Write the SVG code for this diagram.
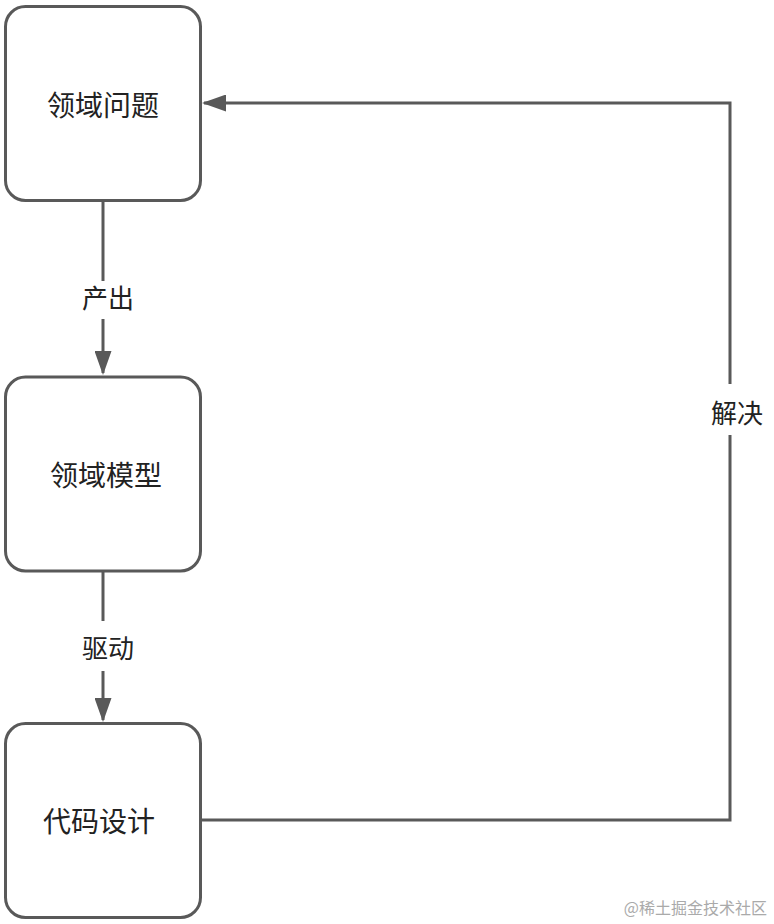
<svg xmlns="http://www.w3.org/2000/svg" width="774" height="924" viewBox="0 0 774 924">
  <style>
    .box { fill: #ffffff; stroke: #595959; stroke-width: 3; }
    .edge { fill: none; stroke: #595959; stroke-width: 3; }
    .t { font-family: "Noto Sans CJK SC", "Noto Sans", sans-serif; fill: #222222; text-anchor: middle; dominant-baseline: central; }
    .node { font-size: 28px; }
    .lbl { font-size: 26px; }
    .wm { font-family: "Noto Sans CJK SC", sans-serif; font-size: 16px; fill: #aaaaaa; text-anchor: end; dominant-baseline: central; }
  </style>
  <defs>
    <marker id="arrow" viewBox="0 0 24 17" refX="22" refY="8.5" markerWidth="24" markerHeight="17" markerUnits="userSpaceOnUse" orient="auto">
      <path d="M0,0 L24,8.5 L0,17 z" fill="#595959"/>
    </marker>
  </defs>
  <rect width="774" height="924" fill="#ffffff"/>
  <g id="connectors">
    <g id="edge-produce">
      <line class="edge" x1="103" y1="201" x2="103" y2="281"/>
      <line class="edge" x1="103" y1="319" x2="103" y2="373" marker-end="url(#arrow)"/>
      <text class="t lbl" x="108" y="296">产出</text>
    </g>
    <g id="edge-drive">
      <line class="edge" x1="103" y1="572" x2="103" y2="621"/>
      <line class="edge" x1="103" y1="671" x2="103" y2="720" marker-end="url(#arrow)"/>
      <text class="t lbl" x="108" y="646">驱动</text>
    </g>
    <g id="edge-solve">
      <path class="edge" d="M201,820 H730 V435"/>
      <path class="edge" d="M730,384 V103 H204" marker-end="url(#arrow)"/>
      <text class="t lbl" x="737" y="411">解决</text>
    </g>
  </g>
  <g id="node-problem">
    <rect class="box" x="5.5" y="6.5" width="195" height="194" rx="20" ry="20"/>
    <text class="t node" x="103" y="104">领域问题</text>
  </g>
  <g id="node-model">
    <rect class="box" x="5.5" y="377" width="195" height="194" rx="20" ry="20"/>
    <text class="t node" x="106" y="474">领域模型</text>
  </g>
  <g id="node-code">
    <rect class="box" x="5.5" y="723.5" width="195" height="194" rx="20" ry="20"/>
    <text class="t node" x="99" y="820">代码设计</text>
  </g>
  <text class="wm" x="767" y="907">@稀土掘金技术社区</text>
</svg>
